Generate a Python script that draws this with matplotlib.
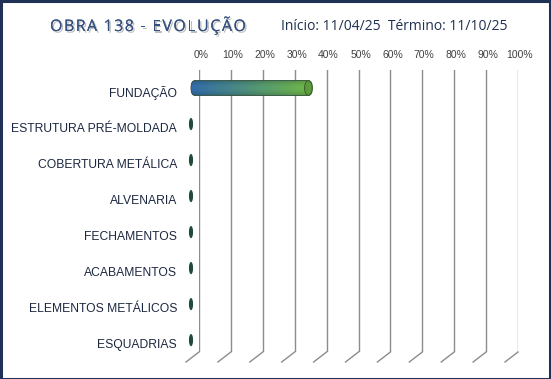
import numpy as np
import matplotlib.pyplot as plt
import matplotlib.patheffects as pe
from matplotlib.patches import FancyBboxPatch, Ellipse, Rectangle
from matplotlib.lines import Line2D
import matplotlib.transforms as mtransforms

# Dados do gráfico
etapas = ['FUNDAÇÃO', 'ESTRUTURA PRÉ-MOLDADA', 'COBERTURA METÁLICA', 'ALVENARIA',
          'FECHAMENTOS', 'ACABAMENTOS', 'ELEMENTOS METÁLICOS', 'ESQUADRIAS']
progresso = [38, 0, 0, 0, 0, 0, 0, 0]
ticks = [0, 10, 20, 30, 40, 50, 60, 70, 80, 90, 100]
tick_labels = ['0%', '10%', '20%', '30%', '40%', '50%', '60%', '70%', '80%', '90%', '100%']

titulo = 'OBRA 138 - EVOLUÇÃO'
datas = 'Início: 11/04/25  Término: 11/10/25'

W, H = 551, 379
fig = plt.figure(figsize=(W / 100, H / 100), dpi=100)
fig.patch.set_facecolor('white')

# eixo principal (plano de fundo do gráfico 3D)
ax = fig.add_axes([199 / W, 1 - 352 / H, 319 / W, 282 / H])
ax.set_xlim(0, 100)
ax.set_ylim(7.33, -0.5)
for s in ax.spines.values():
    s.set_visible(False)
ax.set_facecolor('none')
ax.set_yticks([])
ax.xaxis.tick_top()
ax.set_xticks(ticks)
ax.set_xticklabels(tick_labels, fontsize=7.5, color='#404040', family='Liberation Sans')
ax.tick_params(axis='x', length=0, pad=7)
for lbl in ax.get_xticklabels():
    lbl.set_transform(lbl.get_transform() + mtransforms.Affine2D().translate(2, 0))

grid_c = '#8c8c8c'
for t in ticks:
    ax.axvline(t, color=grid_c, lw=1.0, zorder=1)
    p = ax.transData.transform((t, 7.33))
    fig.add_artist(Line2D([p[0] / W, (p[0] - 13) / W], [p[1] / H, (p[1] - 10) / H],
                          transform=fig.transFigure, color=grid_c, lw=1.0))

# rótulos das categorias
lab_trans = mtransforms.offset_copy(ax.get_yaxis_transform(), fig=fig, x=0, y=-5, units='dots')
for i, nome in enumerate(etapas):
    ax.text((177 - 199) / 319, i, nome, transform=lab_trans, ha='right', va='center',
            fontsize=8.7, color='#1c2840', family='Liberation Sans')

# barras cilíndricas (plano frontal deslocado para a esquerda)
bar_trans = mtransforms.offset_copy(ax.transData, fig=fig, x=-8, y=0, units='dots')
h = 0.42
gx = np.linspace(0, 1, 200)
gy = np.linspace(0, 1, 40)
c0 = np.array([0x2a, 0x5a, 0x8e]) / 255
c1 = np.array([0x5e, 0x9c, 0x3a]) / 255
img = (1 - gx)[None, :, None] * c0 + gx[None, :, None] * c1
shade = 0.75 + 0.45 * np.sin(np.pi * (0.15 + 0.7 * gy))
img = np.clip(img * shade[:, None, None], 0, 1)

for i, v in enumerate(progresso):
    if v > 0:
        box = FancyBboxPatch((0, i - h / 2), v, h,
                             boxstyle='round,pad=0,rounding_size=1.3',
                             mutation_aspect=0.15, transform=bar_trans,
                             facecolor='none', edgecolor='#2d4e3a', lw=0.6, zorder=3,
                             clip_on=False)
        ax.add_patch(box)
        im = ax.imshow(img, extent=(0, v, i + h / 2, i - h / 2), aspect='auto',
                       transform=bar_trans, zorder=2, interpolation='bilinear')
        im.set_clip_path(box)
        im.set_clip_box(fig.bbox)
        ax.add_patch(Ellipse((v - 1.2, i), 2.4, h * 0.96, transform=bar_trans,
                             facecolor='#5f9a3e', edgecolor='#3a6a2a', lw=0.8, zorder=4,
                             clip_on=False))
    else:
        ax.add_patch(Ellipse((0, i), 1.3, 0.34, transform=bar_trans,
                             facecolor='#1f4a3c', edgecolor='none', zorder=3, clip_on=False))
ax.set_xlim(0, 100)
ax.set_ylim(7.33, -0.5)

# título com espaçamento entre letras
renderer = fig.canvas.get_renderer()
x0, x1, yt = 50, 246, 1 - 27 / H
shadow = [pe.withSimplePatchShadow(offset=(1.2, -1.2), shadow_rgbFace='#808080', alpha=0.5),
          pe.Normal()]
chars = []
for ch in titulo:
    t = fig.text(0, yt, ch, ha='left', va='center', fontsize=11.5, color='#34507e',
                 family='Open Sans', path_effects=shadow)
    chars.append(t)
widths = [t.get_window_extent(renderer).width if ch != ' ' else 3.5 for t, ch in zip(chars, titulo)]
gap = (x1 - x0 - sum(widths)) / (len(titulo) - 1)
x = x0
for t, w in zip(chars, widths):
    t.set_x(x / W)
    x += w + gap

fig.text(281 / W, yt, datas, ha='left', va='center', fontsize=10,
         color='#1f3050', family='Open Sans')

# moldura
fig.add_artist(Rectangle((0.5 / W, 0.5 / H), 1 - 1.5 / W, 1 - 1.5 / H, transform=fig.transFigure,
                         facecolor='none', edgecolor='#1f3256', lw=2.2))

fig.savefig('out.png', dpi=100)
